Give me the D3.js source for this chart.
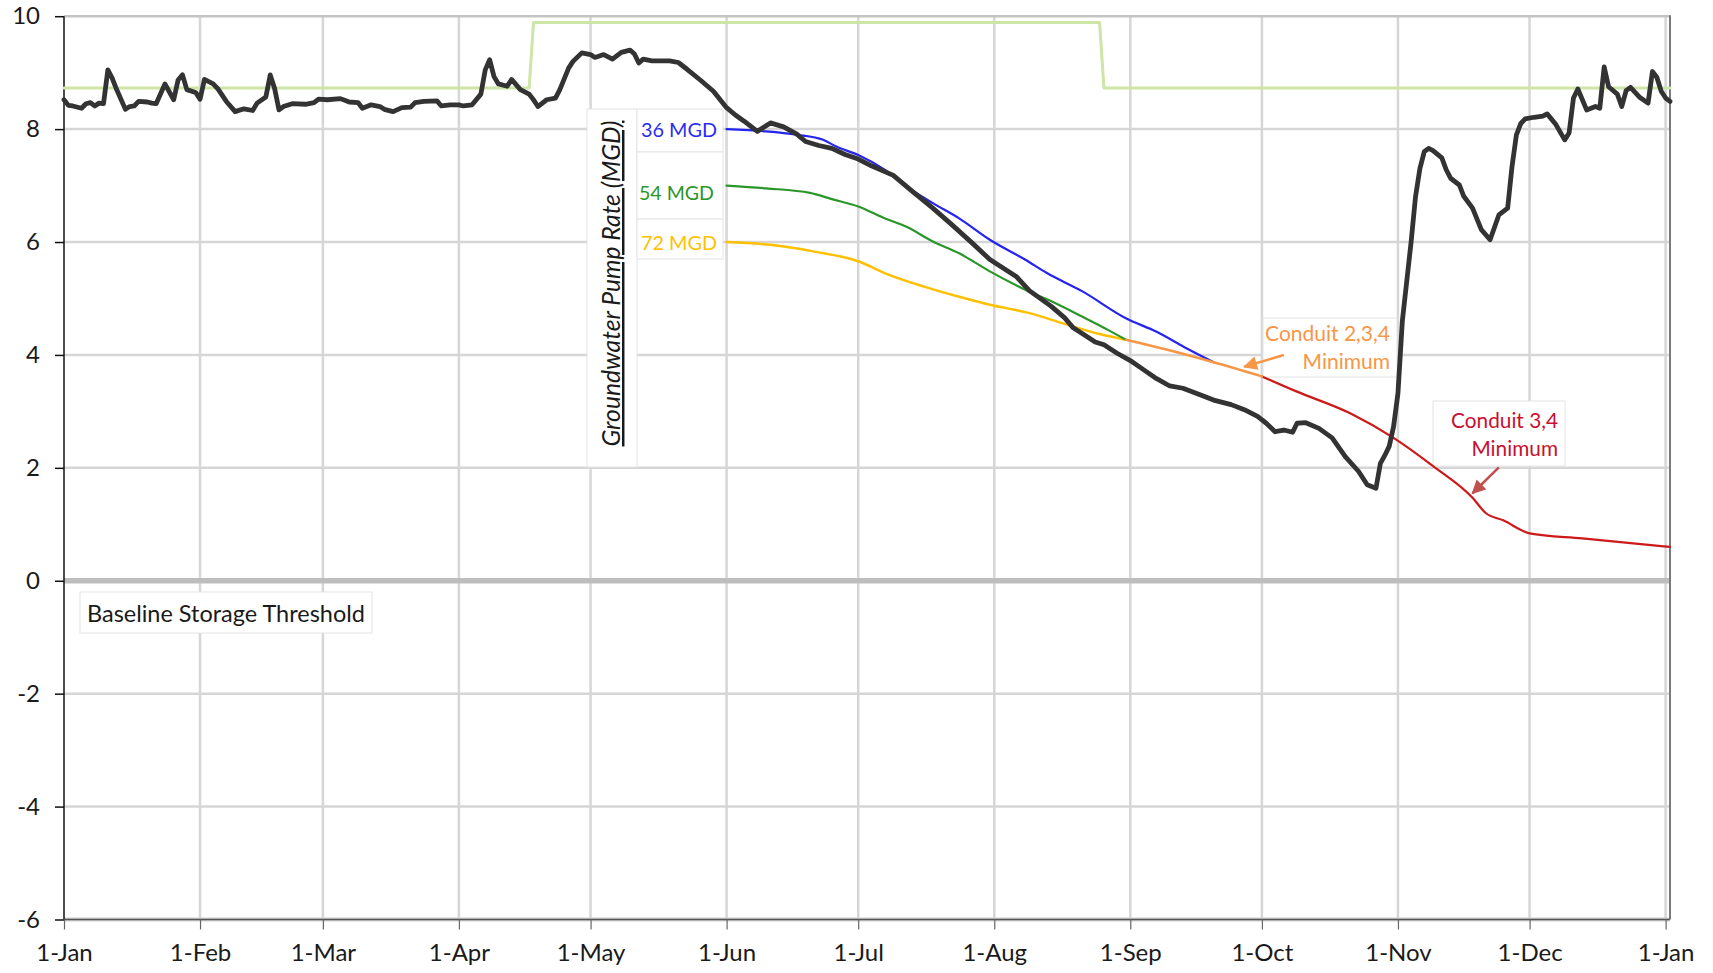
<!DOCTYPE html>
<html><head><meta charset="utf-8">
<script src="https://cdn.jsdelivr.net/npm/d3@7"></script>
<style>
html,body{margin:0;padding:0;background:#fff;}
svg{display:block;font-family:Lato,"Open Sans",sans-serif;}
</style></head><body>
<svg id="chart" width="1713" height="973"></svg>
<script>
// ---------------- DATA ----------------
const xTickLabels = ["1-Jan","1-Feb","1-Mar","1-Apr","1-May","1-Jun","1-Jul","1-Aug","1-Sep","1-Oct","1-Nov","1-Dec","1-Jan"];
const yTicks = [-6,-4,-2,0,2,4,6,8,10];
const yTickLabels = ["-6","-4","-2","0","2","4","6","8","10"];

// observed storage (day of year, 0 = 1-Jan)
const storageDays = [0,1,2,4,5,6,7,8,9,10,11,12,14,15,16,17,19,20,21,23,25,26,27,28,30,31,32,34,35,37,39,41,43,44,46,47,48,49,50,52,55,57,58,60,63,65,67,68,70,72,73,75,77,79,80,82,85,86,88,90,91,93,95,96,97,98,99,101,102,104,106,107,108,110,112,113,115,116,118,120,121,123,125,127,129,130,131,132,134,138,140,142,145,148,151,153,155,158,161,164,167,169,172,175,178,181,184,189,193,198,202,207,211,217,220,225,228,230,233,235,237,240,243,246,249,252,255,258,262,266,269,272,274,276,278,280,281,283,286,289,292,295,297,299,300,301,302,303,304,305,306,307,308,309,310,311,312,314,315,316,318,319,321,323,325,327,329,330,331,332,333,335,337,338,340,342,343,344,345,347,349,350,351,352,354,355,356,357,359,361,362,363,364,365,366];
const storageValues = [8.52,8.42,8.41,8.37,8.45,8.47,8.41,8.46,8.45,9.05,8.90,8.70,8.35,8.40,8.41,8.49,8.48,8.46,8.45,8.80,8.52,8.87,8.96,8.70,8.65,8.53,8.88,8.80,8.72,8.49,8.31,8.36,8.33,8.46,8.57,8.96,8.72,8.34,8.40,8.45,8.44,8.47,8.53,8.52,8.54,8.48,8.47,8.37,8.43,8.40,8.35,8.31,8.38,8.39,8.47,8.49,8.50,8.41,8.43,8.43,8.41,8.43,8.62,9.05,9.23,8.93,8.80,8.76,8.88,8.70,8.62,8.52,8.40,8.52,8.55,8.70,9.08,9.20,9.35,9.32,9.27,9.32,9.24,9.36,9.40,9.33,9.17,9.24,9.21,9.21,9.18,9.06,8.87,8.67,8.38,8.25,8.14,7.96,8.11,8.04,7.91,7.78,7.71,7.66,7.55,7.47,7.35,7.18,6.92,6.60,6.33,5.98,5.69,5.39,5.14,4.86,4.66,4.48,4.33,4.23,4.18,4.03,3.90,3.74,3.58,3.45,3.41,3.32,3.20,3.12,3.03,2.91,2.79,2.64,2.67,2.63,2.79,2.80,2.70,2.53,2.20,1.94,1.70,1.64,2.08,2.22,2.38,2.73,3.32,4.60,5.30,6.00,6.80,7.30,7.60,7.66,7.62,7.49,7.28,7.13,7.01,6.81,6.60,6.22,6.04,6.48,6.60,7.34,7.90,8.10,8.18,8.21,8.23,8.27,8.08,7.81,7.93,8.55,8.71,8.34,8.40,8.37,9.10,8.75,8.62,8.40,8.68,8.74,8.57,8.46,9.02,8.92,8.67,8.55,8.49];

// upper threshold (step)
const thresholdDays = [0,106,107,236,237,366];
const thresholdValues = [8.73,8.73,9.89,9.89,8.73,8.73];

// pump-rate scenarios
const mgd36Days = [151,160,167,173,176,181,187,192,198,204,211,219,224,232,242,249,256,262];
const mgd36Values = [8.0,7.96,7.90,7.81,7.69,7.54,7.28,6.98,6.69,6.42,6.04,5.69,5.45,5.13,4.65,4.41,4.11,3.87];
const mgd54Days = [151,160,170,175,181,187,192,198,204,211,220,225,232,238,242];
const mgd54Values = [7.0,6.95,6.87,6.76,6.63,6.42,6.27,6.01,5.80,5.48,5.12,4.95,4.68,4.44,4.27];
const mgd72Days = [151,161,171,181,187,196,204,211,220,228,236,242];
const mgd72Values = [6.0,5.95,5.83,5.66,5.45,5.21,5.03,4.89,4.74,4.55,4.37,4.27];
const conduit234Days = [242,251,262,273];
const conduit234Values = [4.27,4.10,3.87,3.62];
const conduit34Days = [273,281,293,303,312,321,324,328,334,346,366];
const conduit34Values = [3.62,3.35,2.97,2.53,2.03,1.47,1.20,1.07,0.84,0.75,0.60];

// ---------------- CHART ----------------
const svg = d3.select("#chart");
const day = d => new Date(Date.UTC(2019,0,1+d));
const x = d3.scaleUtc().domain([day(0), day(366)]).range([64,1670]);
const y = d3.scaleLinear().domain([-6,10]).range([919.5,16.2]);
const monthTicks = d3.utcMonth.range(day(0), day(366));
const FONT = "Lato";

const grid = svg.append("g");
grid.selectAll("line.v").data(monthTicks.slice(1)).join("line")
  .attr("x1", d=>x(d)).attr("x2", d=>x(d)).attr("y1", y(10)).attr("y2", y(-6))
  .attr("stroke", "#d6d6d6").attr("stroke-width", 2.5);
grid.selectAll("line.h").data(yTicks.filter(v=>v!==0 && v!==-6)).join("line")
  .attr("x1", x.range()[0]).attr("x2", x.range()[1]).attr("y1", d=>y(d)).attr("y2", d=>y(d))
  .attr("stroke", d=> d===10 ? "#c4c4c4" : "#d6d6d6").attr("stroke-width", 2.5);
grid.append("line").attr("x1", x.range()[0]).attr("x2", x.range()[1]).attr("y1", y(0)).attr("y2", y(0))
  .attr("stroke", "#bdbdbd").attr("stroke-width", 5.5);
grid.append("line").attr("x1", x.range()[0]).attr("x2", x.range()[1]).attr("y1", y(-6)).attr("y2", y(-6))
  .attr("stroke", "#cfcfcf").attr("stroke-width", 4);
grid.append("line").attr("x1", x.range()[0]).attr("x2", x.range()[1]).attr("y1", y(-6)).attr("y2", y(-6))
  .attr("stroke", "#555").attr("stroke-width", 1.5);
grid.append("line").attr("x1", x.range()[1]).attr("x2", x.range()[1]).attr("y1", y(10)-1).attr("y2", y(-6))
  .attr("stroke", "#7a7a7a").attr("stroke-width", 2);

// axes
const yAxis = d3.axisLeft(y).tickValues(yTicks).tickSize(9).tickPadding(15)
  .tickFormat((d,i)=>yTickLabels[i]);
const gy = svg.append("g").attr("transform", `translate(${x.range()[0]},0)`).call(yAxis);
gy.select(".domain").attr("stroke", "#111").attr("stroke-width", 1.5).attr("d", `M0,${y(10)}V${y(-6)}`);
gy.selectAll(".tick line").attr("stroke", "#111").attr("stroke-width", 1.5);
gy.selectAll(".tick text").attr("font-family", FONT).attr("font-size", 24).attr("fill", "#1a1a1a");

const xAxis = d3.axisBottom(x).tickValues(monthTicks).tickSize(10).tickPadding(14)
  .tickFormat((d,i)=>xTickLabels[i]);
const gx = svg.append("g").attr("transform", `translate(0,${y(-6)})`).call(xAxis);
gx.select(".domain").remove();
gx.selectAll(".tick line").attr("stroke", "#666").attr("stroke-width", 1.2);
gx.selectAll(".tick text").attr("font-family", FONT).attr("font-size", 24).attr("fill", "#1a1a1a");

function fit(t, w){ const L = t.node().getComputedTextLength(); const fs = parseFloat(t.attr("font-size")); t.attr("font-size", fs*w/L); return t; }

// annotation boxes (beneath data lines)
const boxes = svg.append("g");
function box(x0,y0,x1,y1){ boxes.append("rect").attr("x",x0).attr("y",y0).attr("width",x1-x0).attr("height",y1-y0)
  .attr("fill","#fff").attr("stroke","#e4e4e4").attr("stroke-width",1); }
box(587,109,637,467);
box(637,109,723,152);
box(637,152,723,219);
box(637,219,723,259);
box(80,592,372,633);
box(1263,318,1397,377);
box(1433,401,1565,466);

// data lines
const stepLine = d3.line().x(d=>x(day(d[0]))).y(d=>y(d[1]));
const smoothLine = d3.line().x(d=>x(day(d[0]))).y(d=>y(d[1])).curve(d3.curveMonotoneX);
function series(days, vals, color, width, gen){
  svg.append("path").datum(days.map((d,i)=>[d, vals[i]])).attr("d", gen)
    .attr("fill","none").attr("stroke",color).attr("stroke-width",width)
    .attr("stroke-linejoin","round").attr("stroke-linecap","round");
}
series(thresholdDays, thresholdValues, "#cde5a6", 3, stepLine);
series(conduit34Days, conduit34Values, "#cc1a1a", 2.2, smoothLine);
series(mgd72Days, mgd72Values, "#ffc000", 2.5, smoothLine);
series(mgd54Days, mgd54Values, "#2a962a", 2.2, smoothLine);
series(mgd36Days, mgd36Values, "#2424ee", 2.2, smoothLine);
series(conduit234Days, conduit234Values, "#f79646", 2.5, smoothLine);
series(storageDays, storageValues, "#333333", 4.8, stepLine);

// texts
const ylab = svg.append("text").attr("transform","translate(620,283.5) rotate(-90)")
  .attr("text-anchor","middle").attr("font-family",FONT).attr("font-style","italic")
  .attr("font-size",22).attr("fill","#1a1a1a").style("text-decoration","underline")
  .text("Groundwater Pump Rate (MGD)");
fit(ylab, 326);

function label(txt, xr, yc, color, w){
  const t = svg.append("text").attr("x",xr).attr("y",yc).attr("text-anchor","end")
    .attr("dominant-baseline","central").attr("font-family",FONT).attr("font-size",21).attr("fill",color).text(txt);
  fit(t, w);
}
label("36 MGD", 717, y(8.0), "#2b2bf0", 76);
label("54 MGD", 714, y(6.88), "#2a962a", 75);
label("72 MGD", 717, y(6.0), "#ffc000", 76);

const base = svg.append("text").attr("x",87).attr("y",621.5).attr("font-family",FONT).attr("font-size",22)
  .attr("fill","#1a1a1a").text("Baseline Storage Threshold");
fit(base, 278);

function twoLine(l1, l2, xr, b1, b2, color, w1){
  const t1 = svg.append("text").attr("x",xr).attr("y",b1).attr("text-anchor","end").attr("font-family",FONT)
    .attr("font-size",21).attr("fill",color).text(l1);
  fit(t1, w1);
  svg.append("text").attr("x",xr).attr("y",b2).attr("text-anchor","end").attr("font-family",FONT)
    .attr("font-size",t1.attr("font-size")).attr("fill",color).text(l2);
}
twoLine("Conduit 2,3,4","Minimum",1390,341,369,"#f79646",125);
twoLine("Conduit 3,4","Minimum",1558,428,456,"#c8102e",107);

// arrows
const defs = svg.append("defs");
function arrow(id, color, from, to){
  defs.append("marker").attr("id",id).attr("viewBox","0 0 10 10").attr("refX",9).attr("refY",5)
    .attr("markerUnits","userSpaceOnUse").attr("markerWidth",15).attr("markerHeight",14).attr("orient","auto")
    .append("path").attr("d","M0,0L10,5L0,10z").attr("fill",color);
  svg.append("line").attr("x1",x(day(from[0]))).attr("y1",y(from[1])).attr("x2",x(day(to[0]))).attr("y2",y(to[1]))
    .attr("stroke",color).attr("stroke-width",2.5).attr("marker-end",`url(#${id})`);
}
arrow("a1","#f79646",[278.8,4.0],[269.1,3.79]);
arrow("a2","#c0504d",[327,2.01],[321,1.55]);
</script>
</body></html>
